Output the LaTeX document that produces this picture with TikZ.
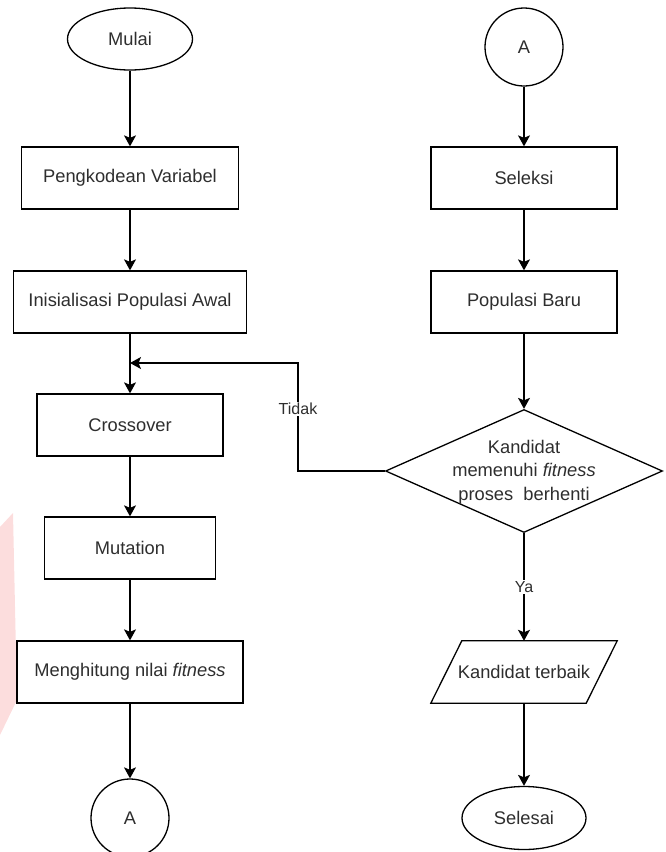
\documentclass[tikz,border=0pt]{standalone}
\usepackage{fontspec}
\setmainfont{Liberation Sans}
\usetikzlibrary{shapes.geometric,arrows.meta,calc}
\definecolor{txtgray}{HTML}{2E2E2E}
\definecolor{pinkmark}{HTML}{FCDDDD}
\tikzset{
  base/.style={draw=black, line width=1.3pt, fill=white, inner sep=0pt,
    text=txtgray, font=\fontsize{18.3}{23.5}\selectfont},
  procbox/.style={base, rectangle, minimum height=62pt},
  terminal/.style={base, ellipse, minimum width=125pt, minimum height=62pt},
  connector/.style={base, circle, minimum size=78pt},
  decision/.style={base, diamond, minimum width=277pt, minimum height=123pt},
  iobox/.style={rectangle, inner sep=0pt, minimum width=186pt, minimum height=62pt,
    text=txtgray, font=\fontsize{18.3}{23.5}\selectfont},
  plain/.style={inner sep=0pt, text=txtgray, font=\fontsize{18.3}{23.5}\selectfont},
  edgelabel/.style={fill=white, inner sep=1.5pt, text=txtgray,
    font=\fontsize{16}{19}\selectfont},
  arr/.style={draw=black, line width=1.3pt,
    -{Stealth[length=11pt, width=12pt, inset=2.5pt]}},
}
\begin{document}
\begin{tikzpicture}[x=1pt, y=-1pt]
  \useasboundingbox (0,0) rectangle (666,852);
  % faint mark on the left margin
  \fill[pinkmark] (0,527) -- (13,513) -- (17,700) -- (0,735) -- cycle;

  % left column
  \node[terminal] (mulai) at (130,39) {Mulai};
  \node[procbox, minimum width=217pt] (pk) at (130,178) {Pengkodean Variabel};
  \node[procbox, minimum width=233pt] (init) at (130,302) {Inisialisasi Populasi Awal};
  \node[procbox, minimum width=186pt] (cross) at (130,425) {Crossover};
  \node[procbox, minimum width=171pt] (mut) at (130,548) {Mutation};
  \node[procbox, minimum width=226pt] (hit) at (130,672) {Menghitung nilai \textit{fitness}};
  \node[connector] (a1) at (130,818) {A};

  % right column
  \node[connector] (a2) at (524,47) {A};
  \node[procbox, minimum width=186pt] (sel) at (524,178) {Seleksi};
  \node[procbox, minimum width=186pt] (pop) at (524,302) {Populasi Baru};
  \node[decision] (dec) at (524,471) {};
  \node[plain, align=center] (dectext) at (524,472)
    {Kandidat\\memenuhi \textit{fitness}\\proses\ \ berhenti};
  \node[iobox] (kt) at (524,672) {Kandidat terbaik};
  \draw[line width=1.3pt] (kt.south west) -- ($(kt.south east)+(-31,0)$)
    -- (kt.north east) -- ($(kt.north west)+(31,0)$) -- cycle;
  \node[terminal, minimum width=124pt, minimum height=63pt] (selesai) at (524,818) {Selesai};

  % loop junction
  \coordinate (merge) at (130,363);
  \coordinate (bend) at (298,363);

  % connectors, left column
  \draw[arr] (mulai) -- (pk);
  \draw[arr] (pk) -- (init);
  \draw[arr] (init) -- (cross);
  \draw[arr] (cross) -- (mut);
  \draw[arr] (mut) -- (hit);
  \draw[arr] (hit) -- (a1);

  % connectors, right column
  \draw[arr] (a2) -- (sel);
  \draw[arr] (sel) -- (pop);
  \draw[arr] (pop) -- (dec.north);
  \draw[arr] (dec.south) -- node[edgelabel] {Ya} (kt.north);
  \draw[arr] (kt.south) -- (selesai);

  % back edge when the stop condition fails
  \draw[arr] (dec.west) -| (bend) -- (merge);
  \node[edgelabel] (tidak) at (298,409) {Tidak};
\end{tikzpicture}
\end{document}
